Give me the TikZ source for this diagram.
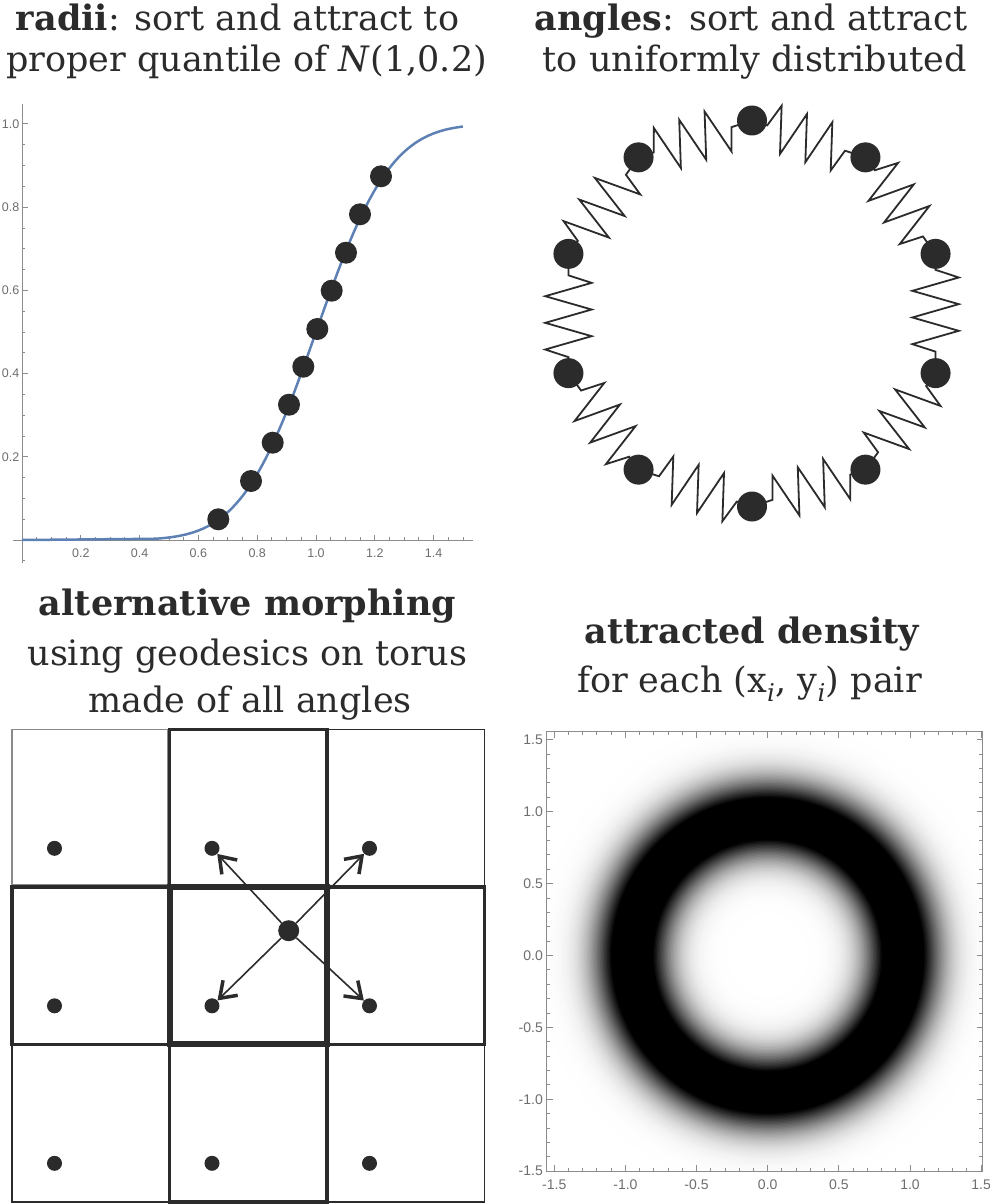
\documentclass[tikz,border=0pt]{standalone}
\usepackage{fontspec}
\setmainfont{DejaVu Serif}
\newfontfamily\ticksfont{Liberation Sans}
\usetikzlibrary{arrows.meta}
\definecolor{ink}{HTML}{2B2B2B}
\definecolor{axisgray}{HTML}{8C8C8C}
\definecolor{labgray}{HTML}{6E6E6E}
\definecolor{curveblue}{HTML}{5E81B5}
\definecolor{cellgray}{HTML}{8A8A8A}
\begin{document}
\begin{tikzpicture}[x=1pt,y=-1pt,
  title/.style={font=\fontsize{35}{40}\selectfont, text=ink, anchor=base, inner sep=0pt},
  ticklab/.style={font=\ticksfont\fontsize{14}{14}\selectfont, text=labgray, inner sep=0pt},
  smalltick/.style={ticklab, font=\ticksfont\fontsize{12.5}{13}\selectfont},
  axisline/.style={draw=axisgray, line width=1pt},
  frameline/.style={draw=axisgray, line width=0.9pt},
  curve/.style={draw=curveblue, line width=2.5pt, line join=round},
  qball/.style={circle, fill=ink, minimum size=22pt, inner sep=0pt},
  sball/.style={circle, fill=ink, minimum size=30pt, inner sep=0pt},
  spring/.style={draw=ink, line width=1.8pt, line join=miter},
  celltl/.style={draw=cellgray, line width=1.5pt},
  cellthin/.style={draw=ink, line width=1.5pt},
  cellmed/.style={draw=ink, line width=3.5pt},
  cellthick/.style={draw=ink, line width=6pt},
  gdot/.style={circle, fill=ink, minimum size=15pt, inner sep=0pt},
  bigdot/.style={circle, fill=ink, minimum size=21pt, inner sep=0pt},
  arr/.style={draw=ink, line width=1.6pt, -{Straight Barb[length=15pt, width=21pt, line width=3.5pt]}}
]
\useasboundingbox (0,0) rectangle (989,1204);
\fill[white] (0,0) rectangle (989,1204);

% ---------------- titles ----------------
\node[title] (t1a) at (237.5,30.7) {\textbf{radii}: sort and attract to};
\node[title] (t1b) at (246.5,71.7) {proper quantile of \textit{N}(1,0.2)};
\node[title] (t2a) at (751,30.7) {\textbf{angles}: sort and attract};
\node[title] (t2b) at (755,71.7) {to uniformly distributed};
\node[title] (t3a) at (247.5,615) {\textbf{alternative morphing}};
\node[title] (t3b) at (247.5,665) {using geodesics on torus};
\node[title] (t3c) at (250,712) {made of all angles};
\node[title] (t4a) at (752.5,643) {\textbf{attracted density}};
\node[title] (t4b) at (749.5,692) {for each (x\textsubscript{\itshape i}, y\textsubscript{\itshape i}) pair};

% ---------------- radii plot ----------------
\draw[axisline] (13,540) -- (473,540);
\draw[axisline] (22,104) -- (22,563);
\foreach \i in {1,...,30} \draw[axisline] ({22+14.7*\i},540) -- ++(0,-3);
\foreach \i in {4,8,...,28} \draw[axisline] ({22+14.7*\i},540) -- ++(0,-5.5);
\foreach \v/\i in {0.2/4,0.4/8,0.6/12,0.8/16,1.0/20,1.2/24,1.4/28}
  \node[smalltick] (xl\i) at ({22+14.7*\i},553) {\v};
\foreach \j in {-1,1,2,...,20} \draw[axisline] (22,{540-20.8*\j}) -- ++(3,0);
\foreach \j in {4,8,...,20} \draw[axisline] (22,{540-20.8*\j}) -- ++(5.5,0);
\foreach \v/\j in {0.2/4,0.4/8,0.6/12,0.8/16,1.0/20}
  \node[smalltick, anchor=east] (yl\j) at (19.5,{540-20.8*\j}) {\v};
\draw[curve] (22,540) -- (154.3,538.8) -- plot[domain=0.45:1.5, samples=120]
  ({22+294*\x}, {540-416/(1+exp(-(7.988*(\x-1)+8.82075*(\x-1)*(\x-1)*(\x-1))))});
\foreach \n/\p in {1/{218.3,519.3},2/{251,481},3/{272.7,442.7},4/{289,404.7},5/{303.3,366.7},
  6/{317.3,329},7/{331.7,290.7},8/{346,252.7},9/{360,214.3},10/{381,176.3}}
  \node[qball] (q\n) at (\p) {};

% ---------------- angles: balls and springs ----------------
\foreach \k in {0,...,9}
  \coordinate (s\k) at ({752+193*cos(18+36*\k)},{313.5-193*sin(18+36*\k)});
\foreach \k in {0,...,9} {
  \pgfmathtruncatemacro\kn{mod(\k+1,10)}
  \pgfmathsetmacro\ta{18+36*\k}
  \pgfmathsetmacro\tm{\ta+18}
  \pgfmathsetmacro\ux{-sin(\tm)}
  \pgfmathsetmacro\uy{-cos(\tm)}
  \pgfmathsetmacro\nx{-cos(\tm)}
  \pgfmathsetmacro\ny{sin(\tm)}
  \pgfmathsetmacro\px{752+193*cos(\ta)}
  \pgfmathsetmacro\py{313.5-193*sin(\ta)}
  \draw[spring] (s\k) -- ({\px+21.5*\ux},{\py+21.5*\uy})
    \foreach \j [evaluate=\j as \sg using {1-2*mod(\j,2)}, evaluate=\j as \ss using {29+13.33*\j}] in {0,...,5} {
      -- ({\px+\ss*\ux+23.2*\sg*\nx},{\py+\ss*\uy+23.2*\sg*\ny})
    }
    -- ({\px+103.3*\ux},{\py+103.3*\uy}) -- (s\kn);
}
\foreach \k in {0,...,9} \node[sball] (b\k) at (s\k) {};

% ---------------- torus grid ----------------
\draw[celltl] (12,729.3) rectangle (167.3,884.8);
\draw[cellthin] (327,729.3) rectangle (484.5,886.8);
\draw[cellthin] (12,1044.3) rectangle (169.5,1201.8);
\draw[cellthin] (327,1044.3) rectangle (484.5,1201.8);
\draw[cellmed] (169.5,729.3) rectangle (327,886.8);
\draw[cellmed] (12,886.8) rectangle (169.5,1044.3);
\draw[cellmed] (327,886.8) rectangle (484.5,1044.3);
\draw[cellmed] (169.5,1044.3) rectangle (327,1201.8);
\draw[cellthick] (169.5,886.8) rectangle (327,1044.3);
\foreach \c in {0,1,2} \foreach \r in {0,1,2}
  \node[gdot] (g\c\r) at ({54.5+157.5*\c},{848.3+157.5*\r}) {};
\node[bigdot] (big) at (288.7,930.7) {};
\draw[arr] (big) -- (g10);
\draw[arr] (big) -- (g20);
\draw[arr] (big) -- (g11);
\draw[arr] (big) -- (g21);

% ---------------- density plot ----------------
\begin{scope}
  \clip (546.7,731.7) rectangle (982.7,1171);
  \foreach \n in {170,...,1} {
    \pgfmathsetmacro\r{\n/100}
    \pgfmathsetmacro\inside{(\r<0.955)}
    \pgfmathsetmacro\w{0.066-0.002*\inside}
    \pgfmathsetmacro\kk{1.38}
    \pgfmathsetmacro\dd{min(100,100*\kk*exp(-(\r-0.955)*(\r-0.955)/\w))}
    \fill[black!\dd!white] (767.7,955.5) circle[x radius={142.3*\r}, y radius={143.8*\r}];
  }
\end{scope}
\draw[frameline] (546.7,731.7) rectangle (982.7,1171);
\foreach \i in {-15,...,15} {
  \pgfmathsetmacro\len{mod(\i,5)==0 ? 6 : 3.5}
  \draw[frameline] ({767.7+14.23*\i},1171) -- ++(0,-\len);
  \draw[frameline] ({767.7+14.23*\i},731.7) -- ++(0,\len);
  \draw[frameline] (546.7,{955.5-14.38*\i}) -- ++(\len,0);
  \draw[frameline] (982.7,{955.5-14.38*\i}) -- ++(-\len,0);
}
\foreach \v/\i in {-1.5/-15,-1.0/-10,-0.5/-5,0.0/0,0.5/5,1.0/10,1.5/15} {
  \node[ticklab] (dx\i) at ({767.7+14.23*\i},1185) {\v};
  \node[ticklab, anchor=east] (dy\i) at (543,{955.5-14.38*\i}) {\v};
}
\end{tikzpicture}
\end{document}
